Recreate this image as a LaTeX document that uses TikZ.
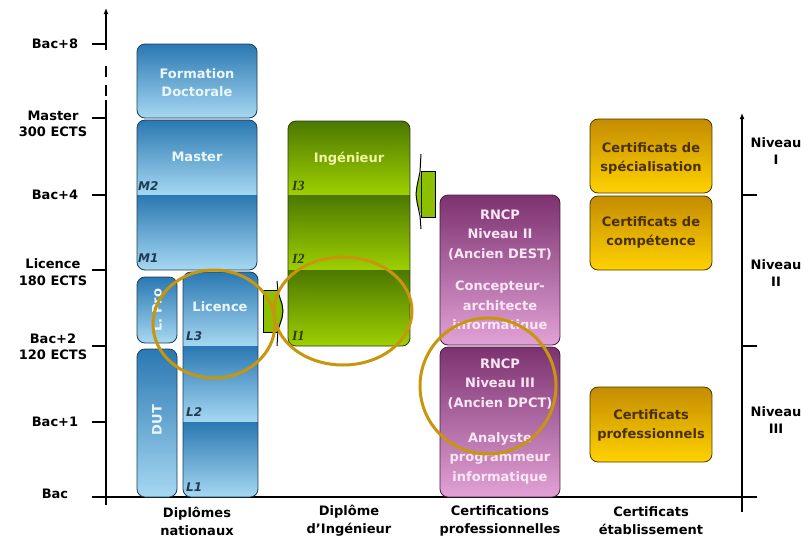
\documentclass[tikz,border=0pt]{standalone}
\usepackage{fontspec}
\setmainfont{DejaVu Sans}
\newfontfamily\serifit{Liberation Serif}
\usetikzlibrary{arrows.meta}
\definecolor{bluetop}{HTML}{2A78B2}
\definecolor{bluebot}{HTML}{A6D8F2}
\definecolor{blueline}{HTML}{1E3C54}
\definecolor{bluetext}{HTML}{EAF6FD}
\definecolor{greentop}{HTML}{4C7800}
\definecolor{greenbot}{HTML}{9ED000}
\definecolor{greenline}{HTML}{2C3A10}
\definecolor{greentext}{HTML}{F2F6A6}
\definecolor{purptop}{HTML}{7C3270}
\definecolor{purpbot}{HTML}{E2A2D6}
\definecolor{purpline}{HTML}{4A1A40}
\definecolor{purptext}{HTML}{FBE6F4}
\definecolor{yeltop}{HTML}{C48C00}
\definecolor{yelbot}{HTML}{FFD200}
\definecolor{yelline}{HTML}{4A3800}
\definecolor{yeltext}{HTML}{4A3000}
\definecolor{ring}{HTML}{C8960C}
\definecolor{tabgreen}{HTML}{8CC000}
\newcommand\ShadedBox[7]{%
  \begin{scope}
    \clip[rounded corners=8pt] (#1,#2) rectangle (#3,#4);
    \foreach \ya/\yb in {#5} {\shade[top color=#6,bottom color=#7] (#1,\ya) rectangle (#3,\yb);}
  \end{scope}}
\begin{document}
\begin{tikzpicture}[x=1pt,y=-1pt,
  every node/.style={font=\fontsize{13}{18}\selectfont\bfseries, align=center, inner sep=0pt},
  axislbl/.style={font=\fontsize{13}{16.5}\selectfont\bfseries},
  yrlbl/.style={font=\fontsize{13}{19.5}\selectfont\bfseries, text=purptext},
  yellbl/.style={text=yeltext, font=\fontsize{13}{19}\selectfont\bfseries},
  mlbl/.style={font=\fontsize{12}{14}\selectfont\bfseries\itshape, text=blueline, anchor=west},
  ilbl/.style={font=\fontsize{14}{14}\serifit\bfseries\itshape, text=greenline, anchor=west},
  bline/.style={draw=blueline, line width=0.8pt, rounded corners=8pt},
  gline/.style={draw=greenline, line width=0.8pt, rounded corners=8pt},
  pline/.style={draw=purpline, line width=0.8pt, rounded corners=8pt},
  yline/.style={draw=yelline, line width=0.8pt, rounded corners=8pt},
  axis/.style={line width=1.3pt, black},
  circ/.style={draw=ring, line width=3pt}]
\useasboundingbox (0,0) rectangle (811,539);
\fill[white] (0,0) rectangle (811,539);

% ---------- axes ----------
\draw[axis,-{Latex[length=6pt,width=5pt]}] (106,50) -- (106,8);
\draw[axis] (106,66) -- (106,77);
\draw[axis] (106,85) -- (106,96);
\draw[axis] (106,100) -- (106,505);
\foreach \yy in {44,118,195,270,346,422} {\draw[axis] (92,\yy) -- (106,\yy);}
\draw[axis] (92,497) -- (757,497);
\draw[axis,-{Latex[length=6pt,width=5pt]}] (742,512) -- (742,113);
\draw[axis] (742,195) -- (757,195);
\draw[axis] (742,346) -- (757,346);

% left axis labels
\node[axislbl] (b8) at (55,44) {Bac+8};
\node[axislbl] (mst) at (53,124) {Master\\300 ECTS};
\node[axislbl] (b4) at (55,195) {Bac+4};
\node[axislbl] (lic) at (53,272) {Licence\\180 ECTS};
\node[axislbl] (b2) at (53,347) {Bac+2\\120 ECTS};
\node[axislbl] (b1) at (55,422) {Bac+1};
\node[axislbl] (b0) at (55,494) {Bac};
% right axis labels
\node[axislbl] (n1) at (776,151) {Niveau\\I};
\node[axislbl] (n2) at (776,273) {Niveau\\II};
\node[axislbl] (n3) at (776,420) {Niveau\\III};

% ---------- blue boxes ----------
\ShadedBox{137}{44}{257}{118}{44/118}{bluetop}{bluebot}
\draw[bline] (137,44) rectangle (257,118);
\ShadedBox{137}{120}{257}{270}{120/195,195/270}{bluetop}{bluebot}
\draw[bline] (137,120) rectangle (257,270);
\ShadedBox{137}{277}{177}{343}{277/343}{bluetop}{bluebot}
\draw[bline] (137,277) rectangle (177,343);
\ShadedBox{137}{349}{177}{497}{349/497}{bluetop}{bluebot}
\draw[bline] (137,349) rectangle (177,497);
\ShadedBox{183}{272}{258}{497}{272/346,346/422,422/497}{bluetop}{bluebot}
\draw[bline] (183,272) rectangle (258,497);

\node[text=bluetext] (doc) at (197,83) {Formation\\Doctorale};
\node[text=bluetext] (mas) at (197,157) {Master};
\node[text=bluetext] (lcc) at (220,307) {Licence};
\node[text=bluetext, rotate=90] (lpro) at (157,310) {L. Pro};
\node[text=bluetext, rotate=90] (dut) at (157,420) {DUT};
\node[mlbl] (m2) at (138,186) {M2};
\node[mlbl] (m1) at (138,258) {M1};
\node[mlbl] (l3) at (186,336) {L3};
\node[mlbl] (l2) at (186,412) {L2};
\node[mlbl] (l1) at (186,487) {L1};

% ---------- green box ----------
\ShadedBox{288}{121}{410}{346}{121/195,195/270,270/346}{greentop}{greenbot}
\draw[gline] (288,121) rectangle (410,346);
\node[text=greentext] (ing) at (349,159) {Ingénieur};
\node[ilbl] (i3) at (292,186) {I3};
\node[ilbl] (i2) at (292,259) {I2};
\node[ilbl] (i1) at (292,336) {I1};

% green tabs
\draw[fill=tabgreen, draw=black, line width=0.7pt] (263,290) rectangle (277,332);
\fill[tabgreen] (277,292) -- (282,304) -- (283,311) -- (282,318) -- (277,330) -- cycle;
\draw[black, line width=1pt] (277,281) -- (278,292) -- (282,304) -- (283,311) -- (282,318) -- (278,330) -- (277,346);
\draw[fill=tabgreen, draw=black, line width=0.7pt] (421,171) rectangle (435,217);
\fill[tabgreen] (421,173) -- (417,186) -- (416,194) -- (417,202) -- (421,215) -- cycle;
\draw[black, line width=1pt] (421,154) -- (420,172) -- (417,186) -- (416,194) -- (417,202) -- (420,216) -- (421,229);

% ---------- purple boxes ----------
\ShadedBox{440}{195}{560}{345}{195/345}{purptop}{purpbot}
\draw[pline] (440,195) rectangle (560,345);
\ShadedBox{440}{347}{560}{497}{347/497}{purptop}{purpbot}
\draw[pline] (440,347) rectangle (560,497);
\node[yrlbl] (r2a) at (500,235) {RNCP\\Niveau II\\(Ancien DEST)};
\node[yrlbl] (r2b) at (500,307) {Concepteur-\\architecte\\informatique};
\node[yrlbl] (r3a) at (500,384) {RNCP\\Niveau III\\(Ancien DPCT)};
\node[yrlbl] (r3b) at (500,458) {Analyste\\programmeur\\informatique};

% ---------- yellow boxes ----------
\ShadedBox{590}{119}{712}{193}{119/193}{yeltop}{yelbot}
\draw[yline] (590,119) rectangle (712,193);
\ShadedBox{590}{196}{712}{270}{196/270}{yeltop}{yelbot}
\draw[yline] (590,196) rectangle (712,270);
\ShadedBox{590}{387}{712}{462}{387/462}{yeltop}{yelbot}
\draw[yline] (590,387) rectangle (712,462);
\node[yellbl] (cs) at (651,158) {Certificats de\\spécialisation};
\node[yellbl] (cc) at (651,232) {Certificats de\\compétence};
\node[yellbl] (cp) at (651,425) {Certificats\\professionnels};

% ---------- bottom labels ----------
\node (c1) at (197,521) {Diplômes\\nationaux};
\node (c2) at (349,521) {Diplôme\\d{\char"0027}Ingénieur};
\node (c3) at (500,521) {Certifications\\professionnelles};
\node (c4) at (651,521) {Certificats\\établissement};

% ---------- highlight rings ----------
\draw[circ] (214,324) ellipse [x radius=61pt, y radius=54pt];
\draw[circ] (343,311) ellipse [x radius=69pt, y radius=54pt];
\draw[circ] (488,386) ellipse [x radius=68pt, y radius=68pt];
\end{tikzpicture}
\end{document}
